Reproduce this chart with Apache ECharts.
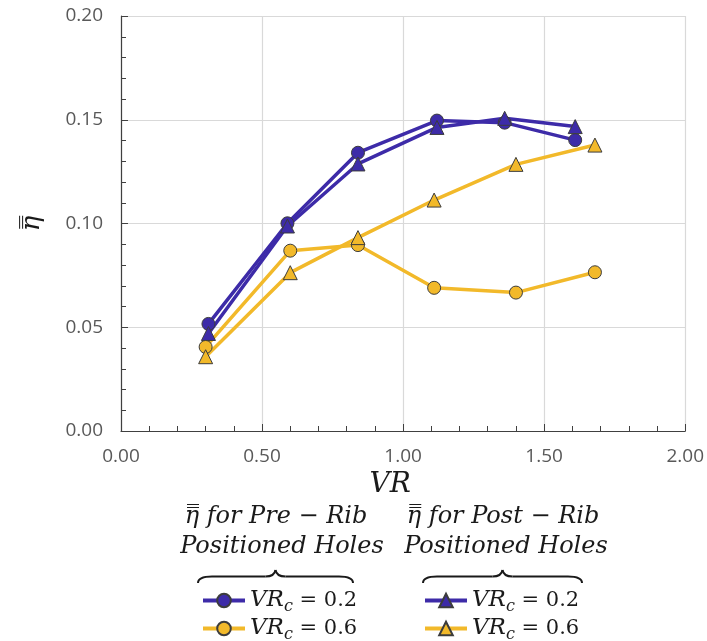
<!DOCTYPE html>
<html>
<head>
<meta charset="utf-8">
<script src="https://cdn.jsdelivr.net/npm/echarts@6/dist/echarts.min.js"></script>
<style>
  html, body { margin: 0; padding: 0; background: #ffffff; }
  #chart { width: 707px; height: 641px; }
</style>
</head>
<body>
<div id="chart"></div>
<script>
// Velocity ratio (x) and spatially averaged effectiveness (y)
const preVR02_x  = [0.31, 0.59, 0.84, 1.12, 1.36, 1.61];
const preVR02_y  = [0.0516, 0.1001, 0.1341, 0.1496, 0.1486, 0.1402];
const preVR06_x  = [0.30, 0.60, 0.84, 1.11, 1.40, 1.68];
const preVR06_y  = [0.0405, 0.0869, 0.0896, 0.0690, 0.0667, 0.0765];
const postVR02_x = [0.31, 0.59, 0.84, 1.12, 1.36, 1.61];
const postVR02_y = [0.0470, 0.0988, 0.1287, 0.1463, 0.1507, 0.1467];
const postVR06_x = [0.30, 0.60, 0.84, 1.11, 1.40, 1.68];
const postVR06_y = [0.0358, 0.0763, 0.0932, 0.1113, 0.1285, 0.1378];

const xTicks = [0, 0.5, 1.0, 1.5, 2.0];
const yTicks = [0, 0.05, 0.10, 0.15, 0.20];

const BLUE = '#3d2ba8';
const GOLD = '#f2b92a';
const EDGE = '#3c3c3c';
const SERIF = '"DejaVu Serif", serif';

function pairs(xs, ys) { return xs.map((x, i) => [x, ys[i]]); }

function makeSeries(name, xs, ys, color, symbol, size) {
  return {
    name: name,
    type: 'line',
    data: pairs(xs, ys),
    symbol: symbol,
    symbolSize: size,
    showAllSymbol: true,
    lineStyle: { color: color, width: 3.5 },
    itemStyle: { color: color, borderColor: EDGE, borderWidth: 1 },
    emphasis: { disabled: true },
    animation: false
  };
}

const legendRich = {
  v: { fontFamily: SERIF, fontStyle: 'italic', fontSize: 23, color: '#1a1a1a' },
  s: { fontFamily: SERIF, fontStyle: 'italic', fontSize: 16, color: '#1a1a1a', padding: [12, 0, 0, 0] },
  n: { fontFamily: SERIF, fontSize: 21, color: '#1a1a1a' }
};
const legendLabel = {
  pre02: '{v|VR}{s|c}{n| = 0.2}',
  pre06: '{v|VR}{s|c}{n| = 0.6}',
  post02: '{v|VR}{s|c}{n| = 0.2}',
  post06: '{v|VR}{s|c}{n| = 0.6}'
};

function legendEntry(name, left, top) {
  return {
    data: [name],
    orient: 'horizontal',
    left: left, top: top,
    padding: 0,
    itemWidth: 42, itemHeight: 17,
    lineStyle: { width: 4 },
    selectedMode: false,
    formatter: n => legendLabel[n],
    textStyle: { rich: legendRich }
  };
}

// Horizontal curly brace opening downward, built from quadratic curves and lines
function brace(x0, x1, yTop, yBot) {
  const m = (x0 + x1) / 2;
  const yMid = (yTop + yBot) / 2;
  const st = { fill: 'none', stroke: '#1a1a1a', lineWidth: 2 };
  return [
    { type: 'bezierCurve', shape: { x1: x0, y1: yBot, cpx1: x0, cpy1: yMid, x2: x0 + 14, y2: yMid }, style: st },
    { type: 'line', shape: { x1: x0 + 14, y1: yMid, x2: m - 10, y2: yMid }, style: st },
    { type: 'bezierCurve', shape: { x1: m - 10, y1: yMid, cpx1: m - 1, cpy1: yMid, x2: m, y2: yTop }, style: st },
    { type: 'bezierCurve', shape: { x1: m, y1: yTop, cpx1: m + 1, cpy1: yMid, x2: m + 10, y2: yMid }, style: st },
    { type: 'line', shape: { x1: m + 10, y1: yMid, x2: x1 - 14, y2: yMid }, style: st },
    { type: 'bezierCurve', shape: { x1: x1 - 14, y1: yMid, cpx1: x1, cpy1: yMid, x2: x1, y2: yBot }, style: st }
  ];
}

const headerFont = 'italic 24px ' + SERIF;
const headers = [
  { type: 'text', x: 276, y: 517, style: { text: 'η\u033F for Pre − Rib', font: headerFont, fill: '#1a1a1a', align: 'center', verticalAlign: 'middle' } },
  { type: 'text', x: 282, y: 547, style: { text: 'Positioned Holes', font: headerFont, fill: '#1a1a1a', align: 'center', verticalAlign: 'middle' } },
  { type: 'text', x: 503, y: 517, style: { text: 'η\u033F for Post − Rib', font: headerFont, fill: '#1a1a1a', align: 'center', verticalAlign: 'middle' } },
  { type: 'text', x: 506, y: 547, style: { text: 'Positioned Holes', font: headerFont, fill: '#1a1a1a', align: 'center', verticalAlign: 'middle' } }
];

const tickLabel = { fontFamily: '"Open Sans", sans-serif', fontSize: 19, color: '#595959', formatter: v => v.toFixed(2) };

const chart = echarts.init(document.getElementById('chart'), null, { renderer: 'canvas' });

chart.setOption({
  backgroundColor: '#ffffff',
  animation: false,
  grid: { left: 121, top: 16, right: 19, bottom: 210, containLabel: false },
  xAxis: {
    type: 'value',
    min: xTicks[0],
    max: xTicks[xTicks.length - 1],
    interval: xTicks[1] - xTicks[0],
    name: 'VR',
    nameLocation: 'middle',
    nameGap: 40,
    nameTextStyle: { fontFamily: SERIF, fontStyle: 'italic', fontSize: 28, color: '#1a1a1a', padding: [0, 26, 0, 0] },
    axisLine: { show: true, lineStyle: { color: '#404040', width: 1.2 } },
    axisTick: { show: true, inside: true, length: 7, lineStyle: { color: '#404040' } },
    minorTick: { show: true, splitNumber: 5, length: 5, lineStyle: { color: '#404040' } },
    axisLabel: Object.assign({ margin: 16 }, tickLabel),
    splitLine: { show: true, lineStyle: { color: '#d9d9d9', width: 1.2 } }
  },
  yAxis: {
    type: 'value',
    min: yTicks[0],
    max: yTicks[yTicks.length - 1],
    interval: yTicks[1] - yTicks[0],
    name: 'η\u033F',
    nameLocation: 'middle',
    nameRotate: 90,
    nameGap: 76,
    nameTextStyle: { fontFamily: SERIF, fontStyle: 'italic', fontSize: 26, color: '#1a1a1a' },
    axisLine: { show: true, lineStyle: { color: '#404040', width: 1.2 } },
    axisTick: { show: true, inside: true, length: 7, lineStyle: { color: '#404040' } },
    minorTick: { show: true, splitNumber: 5, length: 5, lineStyle: { color: '#404040' } },
    axisLabel: Object.assign({ margin: 18 }, tickLabel),
    splitLine: { show: true, lineStyle: { color: '#d9d9d9', width: 1.2 } }
  },
  legend: [
    legendEntry('pre02', 201, 589),
    legendEntry('pre06', 201, 617),
    legendEntry('post02', 423, 589),
    legendEntry('post06', 423, 617)
  ],
  graphic: headers.concat(brace(198, 353, 570, 583), brace(423, 582, 570, 583)),
  series: [
    makeSeries('pre02', preVR02_x, preVR02_y, BLUE, 'circle', 13),
    makeSeries('post02', postVR02_x, postVR02_y, BLUE, 'triangle', 14),
    makeSeries('pre06', preVR06_x, preVR06_y, GOLD, 'circle', 13),
    makeSeries('post06', postVR06_x, postVR06_y, GOLD, 'triangle', 14)
  ]
});
</script>
</body>
</html>
